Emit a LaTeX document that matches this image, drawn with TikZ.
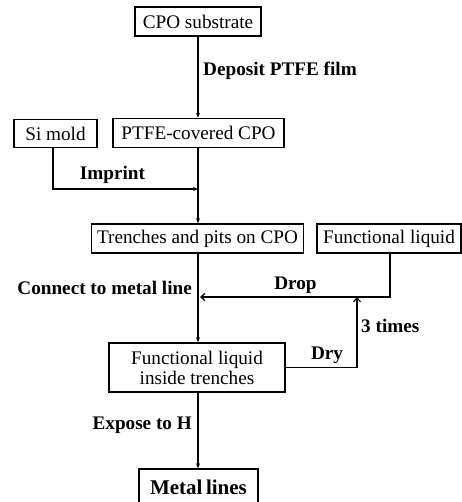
\documentclass[tikz,border=0pt]{standalone}
\usepackage{fontspec}
\setmainfont{Liberation Serif}
\usetikzlibrary{arrows.meta}
\begin{document}
\begin{tikzpicture}[x=1pt,y=-1pt,
  box/.style={draw,line width=1.4pt,inner sep=0pt,font=\fontsize{19.2}{20.5}\selectfont,align=center},
  lbl/.style={font=\bfseries\fontsize{19.2}{20.5}\selectfont,inner sep=0pt},
  conn/.style={line width=1.2pt},
  arr/.style={conn,-{Stealth[length=5pt,width=4pt]}},
  oarr/.style={conn,-{Straight Barb[length=4pt,width=7pt]}}]
\useasboundingbox (0,0) rectangle (461,502);
\node[box,minimum width=126pt,minimum height=29pt] (sub) at (198,21.5) {CPO substrate};
\node[box,minimum width=171pt,minimum height=29pt] (ptfe) at (198.5,133) {PTFE-covered CPO};
\node[box,minimum width=83pt,minimum height=28pt] (si) at (55.5,133.5) {Si mold};
\node[box,minimum width=212pt,minimum height=29pt] (tr) at (197.5,238.5) {Trenches and pits on CPO};
\node[box,minimum width=144pt,minimum height=29pt] (fl) at (389,238.5) {Functional liquid};
\node[box,minimum width=176pt,minimum height=49pt,font=\fontsize{19.2}{20}\selectfont] (flt) at (197,367.5) {Functional liquid\\inside trenches};
\node[box,minimum width=119pt,minimum height=44pt,font=\bfseries\fontsize{21}{22}\selectfont] (ml) at (198.5,491) {\raisebox{7pt}{Metal\,lines}};
\coordinate (imp) at (198,189);
\coordinate (dropend) at (200,297);
\coordinate (flc) at (390,297);
\coordinate (dryc) at (357,367.5);
\coordinate (dryup) at (357,297);
% connectors
\draw[arr] (sub.south -| 198,0) -- (ptfe.north -| 198,0);
\draw[conn] (ptfe.south -| 198,0) -- (imp);
\draw[arr] (imp) -- (tr.north -| 198,0);
\draw[arr] (si.south -| 53,0) |- (imp);
\draw[arr] (tr.south -| 198,0) -- (flt.north -| 198,0);
\draw[oarr] (fl.south -| flc) -- (flc) -- (dropend);
\draw[oarr] (flt.east) -- (dryc) -- (dryup);
\draw[arr] (flt.south -| 198,0) -- (ml.north -| 198,0);
% labels
\node[lbl,anchor=west] at (203,71) {Deposit PTFE film};
\node[lbl] at (112.5,175) {Imprint};
\node[lbl,anchor=east] at (192,288) {Connect to metal line};
\node[lbl] at (295.5,285) {Drop};
\node[lbl,anchor=west] at (361,326) {3 times};
\node[lbl] at (327,355) {Dry};
\node[lbl,anchor=east] at (192,425) {Expose to H};
\end{tikzpicture}
\end{document}
